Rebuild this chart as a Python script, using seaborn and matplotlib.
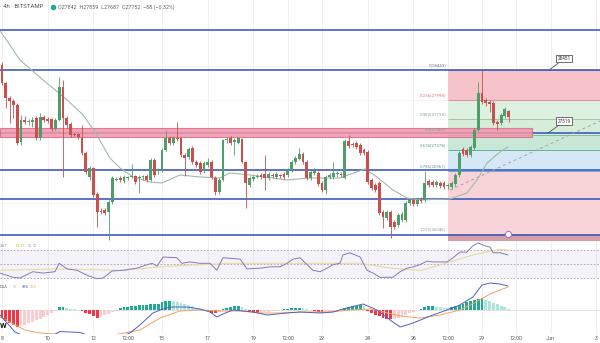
import numpy as np
import pandas as pd
import matplotlib
matplotlib.use("Agg")
import matplotlib.pyplot as plt
from matplotlib.patches import Rectangle
import seaborn as sns

sns.set_theme(style="white")
plt.rcParams['font.family'] = ['Roboto', 'DejaVu Sans']

W, H = 600, 343

# ---------------- data (4h candles, BTC/USD Bitstamp, from May 8) ----------------
opens = [28516, 28253, 28034, 27990, 27932, 27392, 27713, 27684, 27684, 27742,
         27450, 27757, 27727, 27727, 27581, 27713, 28195, 27742, 27655, 27509,
         27509, 27450, 27231, 26881, 27012, 26633, 26384, 26399, 26370, 26516,
         26837, 26866, 26822, 26866, 26881, 26895, 26866, 26881, 26895, 26837,
         27129, 26968, 26968, 27275, 27450, 27377, 27450, 27450, 27202, 27173,
         27304, 27100, 27085, 26968, 27056, 27100, 26866, 26662, 26837, 27421,
         27450, 27392, 27377, 27436, 27100, 26764, 26852, 26881, 26910, 26925,
         26866, 26910, 26881, 26910, 26925, 26910, 26983, 27100, 27144, 27217,
         27100, 26866, 26939, 26939, 26793, 26691, 26881, 26881, 26925, 26925,
         26866, 27406, 27363, 27377, 27348, 27275, 27246, 26837, 26764, 26793,
         26370, 26282, 26370, 26224, 26180, 26253, 26253, 26501, 26545, 26487,
         26545, 26545, 26822, 26808, 26764, 26793, 26793, 26749, 26735, 26779,
         26910, 27290, 27275, 27202, 27304, 27567, 28107, 28005, 27976, 27961,
         27684, 27669, 27771, 27842]
highs = [28560, 28268, 28063, 28020, 27961, 27786, 27771, 27727, 27757, 27771,
         27815, 27786, 27757, 27742, 27742, 28341, 28297, 27771, 27684, 27523,
         27523, 27640, 27260, 27041, 27027, 26662, 26428, 26428, 26545, 26895,
         26881, 26895, 26910, 26895, 27071, 26910, 26910, 26910, 26925, 27158,
         27158, 27012, 27304, 27567, 27479, 27479, 27684, 27465, 27231, 27319,
         27333, 27129, 27114, 27114, 27158, 27129, 26895, 26866, 27436, 27465,
         27479, 27450, 27465, 27450, 27114, 26895, 26910, 26925, 26939, 27202,
         26954, 26939, 26954, 26925, 26954, 27012, 27129, 27187, 27304, 27246,
         27129, 26983, 27012, 26968, 26822, 26910, 26939, 27100, 26968, 26954,
         27436, 27494, 27392, 27406, 27377, 27304, 27275, 26866, 26793, 26822,
         26399, 26399, 26399, 26253, 26355, 26370, 26530, 26574, 26574, 26574,
         26589, 26968, 26852, 26837, 26837, 26822, 26822, 26793, 26822, 26939,
         27260, 27319, 27304, 27348, 27596, 28268, 28443, 28034, 28005, 27990,
         27713, 27815, 27903, 27859]
lows = [28224, 27888, 27669, 27742, 27348, 27348, 27655, 27640, 27611, 27421,
        27421, 27684, 27669, 27552, 27567, 27698, 26881, 27596, 27465, 27479,
        27436, 27202, 26925, 26837, 26589, 26151, 26341, 26326, 25961, 26487,
        26822, 26808, 26793, 26837, 26866, 26779, 26647, 26837, 26808, 26822,
        26881, 26925, 26954, 27260, 27348, 27348, 27406, 27173, 26895, 27144,
        27071, 27027, 26925, 26939, 27027, 26852, 26618, 26633, 26822, 27377,
        27348, 27202, 27363, 27085, 26428, 26735, 26822, 26866, 26852, 26691,
        26837, 26866, 26852, 26866, 26852, 26881, 26954, 27071, 27129, 27071,
        26837, 26837, 26910, 26749, 26662, 26633, 26852, 26852, 26881, 26881,
        26852, 27304, 27319, 27290, 27202, 27202, 26779, 26691, 26662, 26326,
        26136, 26253, 25990, 26122, 26151, 26224, 26224, 26472, 26457, 26457,
        26501, 26516, 26735, 26735, 26735, 26720, 26706, 26706, 26706, 26749,
        26881, 27187, 27173, 27173, 27275, 27552, 27947, 27917, 27830, 27640,
        27567, 27640, 27742, 27687]
closes = [28253, 28034, 27990, 27932, 27377, 27713, 27684, 27698, 27713, 27450,
          27757, 27713, 27698, 27581, 27713, 28195, 27742, 27640, 27494, 27494,
          27465, 27231, 26954, 27012, 26618, 26370, 26370, 26355, 26516, 26866,
          26852, 26837, 26881, 26881, 26895, 26808, 26881, 26895, 26837, 27129,
          26910, 26983, 27275, 27450, 27377, 27450, 27436, 27202, 27158, 27290,
          27100, 27056, 26954, 27085, 27100, 26881, 26662, 26837, 27421, 27436,
          27377, 27421, 27450, 27100, 26793, 26866, 26881, 26895, 26881, 26866,
          26925, 26895, 26925, 26895, 26881, 26983, 27100, 27158, 27217, 27100,
          26866, 26954, 26968, 26779, 26691, 26881, 26910, 26939, 26939, 26910,
          27406, 27333, 27348, 27319, 27231, 27231, 26808, 26720, 26691, 26355,
          26297, 26370, 26151, 26151, 26326, 26341, 26501, 26545, 26487, 26545,
          26530, 26793, 26764, 26764, 26808, 26749, 26735, 26764, 26793, 26910,
          27231, 27217, 27202, 27319, 27567, 28107, 27976, 27961, 27947, 27669,
          27655, 27786, 27873, 27752]

# moving average on price
ma_idx = [-0.5, 2.1, 4.7, 10.8, 17.1, 21.3, 24.9, 28.3, 31, 34.4, 38.8, 42, 46.7, 52,
          57.2, 59.8, 65.1, 74.8, 80.8, 88.7, 95.3, 98.4, 102.6, 106.3, 109.7, 117.6,
          122, 124.7, 127.3, 130.7, 132.8]
ma_val = [29012, 28808, 28589, 28297, 28005, 27786, 27494, 27158, 27012, 26881, 26808,
          26793, 26910, 26881, 26866, 26939, 26910, 26837, 26866, 26866, 26998, 26881,
          26691, 26574, 26545, 26560, 26647, 26837, 27085, 27246, 27319]

# RSI
rsi_idx = [-0.5, 2.9, 4.7, 8.1, 10.8, 13.9, 15, 17.1, 19.7, 22.3, 24.9, 26.5, 28.9, 31.8,
           35.4, 38.1, 39.4, 40.7, 42.3, 45.9, 47.2, 49.3, 52, 54.6, 56.4, 58, 62.5, 64.3,
           67.7, 70.3, 73, 74.8, 76.4, 78.2, 80.1, 81.6, 83.5, 85.3, 86.9, 88.7, 89.5, 91.3,
           92.7, 94, 95.8, 97.4, 99.2, 101, 102.6, 104.5, 106.3, 107.9, 109.7, 111.5, 113.1,
           116.8, 118.4, 120.2, 122, 123.6, 124.9, 126.8, 128.1, 128.9, 130.7, 132.8]
rsi_val = [37, 31, 30, 39, 37, 39, 51, 43, 41, 34, 29, 30, 40, 41, 44, 49, 51, 47, 60, 59,
           51, 53, 51, 51, 41, 59, 57, 43, 44, 46, 46, 51, 57, 59, 49, 41, 39, 44, 49, 51,
           63, 66, 63, 60, 41, 37, 31, 31, 31, 39, 44, 46, 49, 54, 53, 53, 59, 67, 67, 76,
           80, 76, 74, 66, 66, 63]
rsi_ma_idx = [-0.5, 15, 31, 44, 60, 78, 94, 102, 110, 117.6, 123.6, 130.7, 132.8]
rsi_ma_val = [41, 43, 41, 47, 51, 51, 51, 44, 41, 53, 63, 71, 70]

# MACD-style oscillator
macd_hist = [-80, -110, -130, -150, -170, -160, -150, -130, -120, -100, -90, -70, -50, -30, -10,
             30, 30, 20, 15, 10, 5,
             -10, -30, -40, -60, -80, -70, -50, -40, -20, -10,
             20, 30, 35, 40, 45, 50, 50, 55, 60, 60, 65,
             80, 90, 95, 90, 80, 70, 60, 50, 40, 20, 10,
             0, -10, -25, -30, -20,
             10, 25, 35, 40, 40, 30, 10,
             -10, -25, -30, -25, -20, -15, -10,
             -5, 5, 10, 15, 20, 25, 25, 20, 10,
             5, -10, -20, -25, -20, -15, -10, -5, -2,
             20, 35, 40, 45, 50, 40,
             -10, -30, -45, -60, -75, -85, -90, -90, -75, -60, -45, -30, -15,
             5, 15, 30, 40, 40, 35, 30, 25, 20,
             30, 45, 55, 60, 80, 90, 100, 110, 120, 100, 90, 70, 60, 45, 30, 15]
macd_idx = [-0.5, 3.4, 8, 12, 15.2, 20.5, 26, 30, 33.6, 36.2, 39.6, 41.5, 44.1, 48.6, 52, 54.6,
            56.4, 58, 60.6, 65.9, 69.6, 74.8, 78.2, 83.5, 86.9, 89.5, 94.8, 98.4, 102.6, 104.5,
            107.9, 113.1, 116.8, 120.2, 123.6, 126, 128.1, 130.7, 132.8]
macd_val = [-50, -220, -300, -280, -215, -225, -300, -280, -230, -150, -30, 0, 30, 30, 10, -20,
            -70, -40, 0, -20, -50, -30, -20, -30, -20, 10, 60, 0, -120, -170, -130, -50, 0, 50,
            130, 250, 270, 260, 240]
signal_idx = [-0.5, 6, 10, 20, 30, 36.2, 41.5, 46.7, 52, 57.2, 62.5, 67.7, 73, 78.2, 86.1, 91.3,
              96.6, 99.2, 104.5, 109.7, 115, 120.2, 123.9, 128.1, 132.8]
signal_val = [-70, -200, -230, -255, -245, -200, -80, -10, 0, -10, -10, -30, -30, -20, -20, 0,
              10, -10, -60, -80, -50, 0, 70, 160, 230]

# drawings
hlines = [29020, 28443, 27530, 26990, 26560, 26030]
zone_low, zone_high, zone_end = 27465, 27596, 139
fib_start = 117
fib_ratios = ["0", "0.236", "0.382", "0.5", "0.618", "0.786", "1.272"]
fib_prices = [28443, 27998, 27723, 27501, 27278, 26961, 26046]
trend_idx = [117.6, 157]
trend_price = [26691, 27699]
callout_text = ["28451", "27519"]
callout_anchor_idx = [143.8, 143.3]
callout_anchor_price = [28451, 27519]
callout_box_idx = [147.6, 147.6]
callout_box_price = [28611, 27698]
event_idx = [132.8]
event_price = [26049]

tick_idx = [0, 12, 24, 33, 42, 54, 66, 75, 84, 96, 108, 117, 126, 135, 144, 156]
tick_lbl = ["8", "10", "12", "12:00", "15", "17", "19", "12:00", "22", "24", "26",
            "12:00", "29", "12:00", "Jun", "3"]

header_left = "· 4h · BITSTAMP"
header_ohlc = "O27842  H27859  L27687  C27752  −88 (−0.32%)"

# ---------------- figure ----------------
X0, X1 = -0.525, 156.96
fig = plt.figure(figsize=(6, 3.43), dpi=100)
fig.patch.set_facecolor("white")

def frac(top, bottom):
    return [0, 1 - bottom / H, 1, (bottom - top) / H]

ax = fig.add_axes(frac(0, 241))
ax_r = fig.add_axes(frac(241, 281))
ax_m = fig.add_axes(frac(281, 334))
for a in (ax, ax_r, ax_m):
    a.set_xlim(X0, X1)
    a.set_facecolor("white")
    a.set_yticks([])
    for s in a.spines.values():
        s.set_visible(False)
    for t in tick_idx:
        a.axvline(t, color="#eeeeee", lw=0.6, zorder=0)

# ---- main pane ----
ax.set_ylim(25946, 29465)
for p in [28500, 28000, 27500, 27000, 26500]:
    ax.axhline(p, color="#f3f3f3", lw=0.6, zorder=0)

fib_fill = ["#f5c3c9", "#def0e0", "#d6eddA", "#c9e7d7", "#d6e8f5", "#f8d3d8"]
fib_line = ["#8a8d96", "#e58a92", "#a9c2ac", "#86c297", "#5fb3a0", "#6aa6d8", "#d98a96"]
fib_text = ["#787b86", "#e57373", "#8a9a8d", "#6aa87a", "#4aa07a", "#6a8fb8", "#9a9a9a"]
for k in range(6):
    ax.fill_between([fib_start, X1], fib_prices[k + 1], fib_prices[k],
                    color=fib_fill[k], lw=0, zorder=1)
ax.fill_between([fib_start, X1], 25946, fib_prices[6], color="#d89ca6", lw=0, zorder=1)
ax.hlines(fib_prices, fib_start, X1, colors=fib_line, lw=0.7, zorder=2)
for r, p, col in zip(fib_ratios, fib_prices, fib_text):
    ax.text(fib_start - 0.4, p + 45, f"{r}({p})", ha="right", va="bottom",
            fontsize=3.2, color=col, zorder=8)

ax.hlines(hlines, X0, X1, colors="#3e5cc0", lw=1.2, zorder=3)
ax.add_patch(Rectangle((X0, zone_low), zone_end - X0, zone_high - zone_low,
                       fc="#f096aa", ec="#df6a88", lw=0.8, alpha=0.85, zorder=4))

ax.plot(trend_idx, trend_price, color="#a0a0a0", lw=0.7, ls=(0, (3, 3)), zorder=5)

sns.lineplot(x=ma_idx, y=ma_val, ax=ax, color="#a3b9a8", linewidth=0.8,
             estimator=None, sort=False, legend=False, zorder=5)

o = np.array(opens); hgh = np.array(highs); low = np.array(lows); c = np.array(closes)
idx = np.arange(len(c))
up = c >= o
cols = np.where(up, "#4f9d6a", "#c9504c")
ax.vlines(idx, low, hgh, colors=cols, lw=0.6, zorder=6)
body_bot = np.minimum(o, c)
body_h = np.maximum(np.abs(c - o), 14)
ax.bar(idx, body_h, bottom=body_bot, width=0.74, color=cols, lw=0, zorder=7)

for t, ai, ap, bi, bp in zip(callout_text, callout_anchor_idx, callout_anchor_price,
                             callout_box_idx, callout_box_price):
    ax.annotate(t, xy=(ai, ap), xytext=(bi, bp), fontsize=3.3, color="#333",
                ha="center", va="center", zorder=10,
                bbox=dict(boxstyle="square,pad=0.3", fc="white", ec="#555", lw=0.6),
                arrowprops=dict(arrowstyle="-", color="#555", lw=0.6, shrinkA=0, shrinkB=0))

ax.plot(event_idx, event_price, "o", ms=4.5, mfc="white", mec="#9c6ade", mew=0.7, zorder=9)
ax.set_xticks([])

# ---- RSI pane ----
ax_r.set_ylim(25.7, 82.9)
ax_r.axhspan(30, 70, color="#7e57c2", alpha=0.07, lw=0, zorder=1)
for v in [70, 50, 30]:
    ax_r.axhline(v, color="#a3a3ad", lw=0.6, ls=(0, (2, 2)), zorder=2)
sns.lineplot(x=rsi_ma_idx, y=rsi_ma_val, ax=ax_r, color="#e6dc9c", linewidth=0.8,
             estimator=None, sort=False, legend=False, zorder=3)
sns.lineplot(x=rsi_idx, y=rsi_val, ax=ax_r, color="#8579bd", linewidth=0.7,
             estimator=None, sort=False, legend=False, zorder=4)
ax_r.set_xticks([])

# ---- MACD pane ----
ax_m.set_ylim(-240, 290)
ax_m.axhline(0, color="#dddddd", lw=0.6, zorder=1)
hist = np.array(macd_hist, dtype=float)
prev = np.concatenate([[hist[0] + 1], hist[:-1]])
hcols = np.where(hist >= 0,
                 np.where(hist >= prev, "#22ab94", "#ace5dc"),
                 np.where(hist < prev, "#f23645", "#fccbcd"))
ax_m.bar(np.arange(len(hist)), hist, width=0.74, color=hcols, lw=0, zorder=2)
sns.lineplot(x=signal_idx, y=signal_val, ax=ax_m, color="#f0a35e", linewidth=0.7,
             estimator=None, sort=False, legend=False, zorder=3)
sns.lineplot(x=macd_idx, y=macd_val, ax=ax_m, color="#4f5fc4", linewidth=0.7,
             estimator=None, sort=False, legend=False, zorder=4)
ax_m.set_xticks(tick_idx)
ax_m.set_xticklabels(tick_lbl, fontsize=3.8, color="#555555")
ax_m.tick_params(axis="x", length=0, pad=1.8)
for a in (ax, ax_r, ax_m):
    a.set_xlabel(""); a.set_ylabel("")
    a.set_xlim(X0, X1)

# ---- header / pane labels ----
def fx(x): return x / W
def fy(y): return 1 - y / H

fig.text(fx(0.5), fy(7), header_left, fontsize=4.3, color="#555", va="center", ha="left")
fig.add_artist(plt.Line2D([fx(53)], [fy(7)], marker="o", ms=3, color="#22ab94",
                          transform=fig.transFigure))
fig.text(fx(58), fy(7), header_ohlc, fontsize=3.9, color="#666", va="center", ha="left")

fig.text(fx(0), fy(246), "3.67", fontsize=2.8, color="#8579bd", va="center")
fig.text(fx(16), fy(246), "68.31", fontsize=2.8, color="#d8c64a", va="center")
fig.text(fx(27.5), fy(246), "∅", fontsize=2.8, color="#888", va="center")
fig.text(fx(33), fy(246), "∅", fontsize=2.8, color="#888", va="center")

fig.text(fx(0), fy(287), "DAA", fontsize=2.9, color="#666", va="center")
fig.text(fx(13), fy(287), "21", fontsize=2.9, color="#a9b4d8", va="center")
fig.text(fx(21.5), fy(287), "384", fontsize=2.9, color="#4f5fc4", va="center")
fig.text(fx(29.5), fy(287), "263", fontsize=2.9, color="#f0a35e", va="center")

fig.text(fx(0), fy(325), "W", fontsize=5.5, fontweight="bold", color="#111", va="center")

fig.savefig("out.png", dpi=100, facecolor="white")
